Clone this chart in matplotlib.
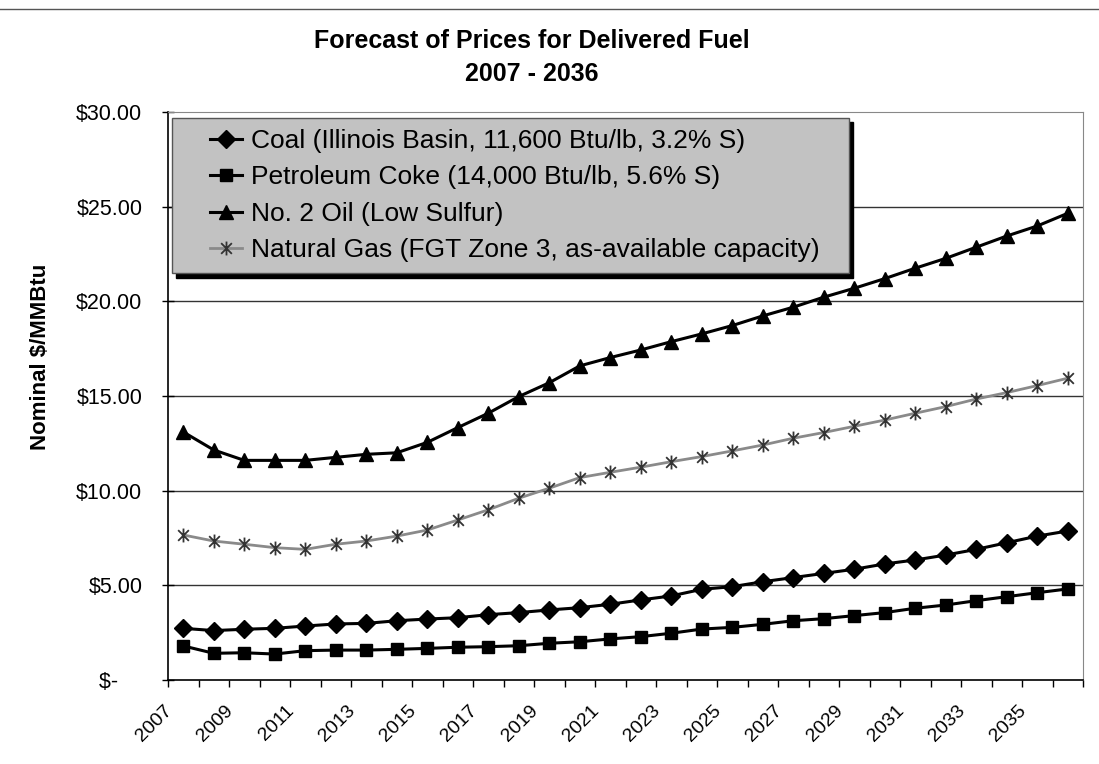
import numpy as np
import matplotlib.pyplot as plt
from matplotlib.path import Path
from matplotlib.lines import Line2D
from matplotlib.legend_handler import HandlerLine2D
import matplotlib.transforms as mtransforms

plt.rcParams['font.family'] = ['Liberation Sans', 'DejaVu Sans']

years = list(range(2007, 2037))
coal = [2.73, 2.61, 2.68, 2.73, 2.85, 2.96, 2.99, 3.13, 3.22, 3.29,
        3.45, 3.56, 3.70, 3.82, 4.00, 4.23, 4.44, 4.79, 4.93, 5.19,
        5.41, 5.63, 5.85, 6.13, 6.34, 6.60, 6.90, 7.25, 7.60, 7.87]
coke = [1.80, 1.41, 1.44, 1.37, 1.55, 1.58, 1.58, 1.62, 1.67, 1.73,
        1.76, 1.81, 1.94, 2.02, 2.17, 2.29, 2.47, 2.69, 2.78, 2.94,
        3.13, 3.24, 3.40, 3.56, 3.79, 3.96, 4.19, 4.40, 4.61, 4.81]
oil = [13.10, 12.15, 11.60, 11.60, 11.60, 11.76, 11.92, 12.00, 12.55, 13.33,
       14.09, 14.97, 15.70, 16.59, 17.03, 17.43, 17.87, 18.28, 18.72, 19.23,
       19.69, 20.22, 20.69, 21.20, 21.75, 22.27, 22.86, 23.45, 23.98, 24.65]
gas = [7.66, 7.34, 7.17, 6.99, 6.90, 7.17, 7.34, 7.60, 7.92, 8.45,
       8.99, 9.60, 10.13, 10.69, 10.97, 11.24, 11.53, 11.80, 12.10, 12.41,
       12.77, 13.07, 13.40, 13.73, 14.09, 14.44, 14.84, 15.18, 15.55, 15.94]

labels = ['Coal (Illinois Basin, 11,600 Btu/lb, 3.2% S)',
          'Petroleum Coke (14,000 Btu/lb, 5.6% S)',
          'No. 2 Oil (Low Sulfur)',
          'Natural Gas (FGT Zone 3, as-available capacity)']
yticks = [0, 5, 10, 15, 20, 25, 30]
yticklabels = ['$-    ', '$5.00', '$10.00', '$15.00', '$20.00', '$25.00', '$30.00']

# excel style asterisk: an x with a vertical bar
star = Path([(-1, -1), (1, 1), (-1, 1), (1, -1), (0, -1.3), (0, 1.3)],
            [Path.MOVETO, Path.LINETO, Path.MOVETO, Path.LINETO, Path.MOVETO, Path.LINETO])


class RightHandler(HandlerLine2D):
    # excel puts the legend key on the right part of the handle box
    def get_xdata(self, legend, xdescent, ydescent, width, height, fontsize):
        x0 = -xdescent + 0.45 * width
        x1 = -xdescent + width
        return np.array([x0, x1]), np.array([(x0 + x1) / 2])


fig = plt.figure(figsize=(10.99, 7.64), dpi=100)
ax = fig.add_axes([168 / 1099, 1 - 680 / 764, (1083 - 168) / 1099, (680 - 112) / 764])

x = np.arange(len(years))
l1, = ax.plot(x, coal, color='black', lw=2.2, marker='D', ms=9, label=labels[0])
l2, = ax.plot(x, coke, color='black', lw=2.2, marker='s', ms=8, label=labels[1])
l3, = ax.plot(x, oil, color='black', lw=2.2, marker='^', ms=10, label=labels[2])
l4, = ax.plot(x, gas, color='#8a8a8a', lw=2, marker=star, ms=10, mec='#333333',
              mew=1.3, mfc='none', label=labels[3])

ax.set_xlim(-0.5, len(years) - 0.5)
ax.set_ylim(0, 30)
ax.set_yticks(yticks)
ax.set_yticklabels(yticklabels, fontsize=15.5)
for yv in yticks[1:-1]:
    ax.axhline(yv, color='#333333', lw=1, zorder=0)

# ticks on category boundaries, labels every other category
ax.set_xticks(np.arange(len(years) + 1) - 0.5)
ax.set_xticklabels([])
ax.set_xticks(x[::2], minor=True)
ax.set_xticklabels([str(y) for y in years[::2]], minor=True, rotation=45,
                   ha='right', fontsize=14)
ax.tick_params(axis='x', which='major', direction='out', length=5, width=1)
ax.tick_params(axis='x', which='minor', length=0, pad=16)
ax.tick_params(axis='y', direction='inout', length=9, width=1, pad=14)
off = mtransforms.ScaledTranslation(-8 / 100, 0, fig.dpi_scale_trans)
for t in ax.get_xticklabels(minor=True):
    t.set_transform(t.get_transform() + off)

ax.spines['left'].set_linewidth(1.2)
ax.spines['bottom'].set_linewidth(1.2)
for s in ['top', 'right']:
    ax.spines[s].set_color('#888888')
    ax.spines[s].set_linestyle((0, (2, 1)))

hm = {h: RightHandler() for h in [l1, l2, l3, l4]}
lx0, lx1, ly0 = 172, 849, 118
leg = ax.legend(loc='upper left', mode='expand',
                bbox_to_anchor=((lx0 - 168) / 915, 0, (lx1 - lx0) / 915, 1 - (ly0 - 112) / 568),
                fontsize=19, frameon=True, fancybox=False, handlelength=2.25,
                handletextpad=0.34, labelspacing=0.47, borderpad=0.42, borderaxespad=0,
                handler_map=hm, shadow={'color': 'black', 'alpha': 1, 'ox': 3, 'oy': -3})
leg.get_frame().set_facecolor('#c2c2c2')
leg.get_frame().set_edgecolor('#555555')
leg.get_frame().set_linewidth(1)

fig.text(532 / 1099, 1 - 29 / 764, 'Forecast of Prices for Delivered Fuel\n2007 - 2036',
         ha='center', va='top', fontsize=18, fontweight='bold', linespacing=1.45)
fig.text(41 / 1099, 1 - 357 / 764, 'Nominal $/MMBtu', rotation=90, ha='center',
         va='center', fontsize=16, fontweight='bold')

fig.add_artist(Line2D([0, 1], [1 - 9 / 764, 1 - 9 / 764], color='#555555', lw=1))

fig.savefig('out.png', dpi=100)
